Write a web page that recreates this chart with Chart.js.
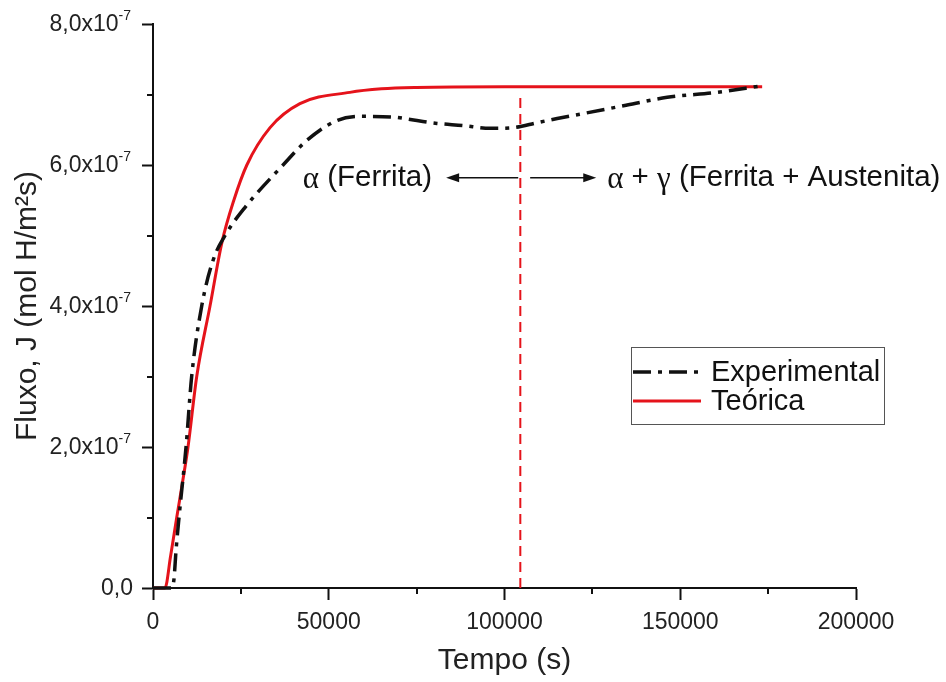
<!DOCTYPE html>
<html>
<head>
<meta charset="utf-8">
<script src="https://cdn.jsdelivr.net/npm/chart.js@4.4.1/dist/chart.umd.min.js"></script>
<style>
  html, body { margin: 0; padding: 0; background: #ffffff; }
  canvas { display: block; }
</style>
</head>
<body>
<canvas id="chart" width="946" height="682"></canvas>
<script>
// Hydrogen permeation flux vs. time; flux values are in units of 1e-7 mol H/m²s
const expTime = [0, 5400, 6000, 6500, 7400, 9400, 11000, 13860, 17100, 20500, 26200, 37000, 43800, 52300, 59800, 68300, 75100, 80800, 88200, 95900, 102500, 109300, 115000, 122400, 134900, 146300, 160500, 172700];
const expFlux = [0, 0, 0.14, 0.5, 1.0, 2.0, 3.0, 4.0, 4.65, 5.0, 5.4, 6.0, 6.35, 6.63, 6.69, 6.68, 6.63, 6.59, 6.56, 6.52, 6.53, 6.6, 6.66, 6.73, 6.85, 6.96, 7.03, 7.12];

const theoTime = [0, 3400, 5000, 6750, 8400, 9960, 12440, 16220, 19600, 23000, 26700, 33300, 41800, 56000, 65000, 75000, 100000, 173300];
const theoFlux = [0, 0, 0.45, 1.0, 1.5, 2.0, 3.0, 4.0, 4.9, 5.5, 6.0, 6.53, 6.87, 7.03, 7.08, 7.1, 7.11, 7.11];

// Phase boundary (α → α + γ) marker
const phaseBoundaryTime = 104500;
const phaseLineFlux = [0, 7.0];

const seriesLabels = ['Experimental', 'Teórica'];
const phaseLabels = ['α (Ferrita)', 'α + γ (Ferrita + Austenita)'];

const yTickValues = [0, 2, 4, 6, 8];
const yExponent = '-7';
const xTickStep = 50000;

const SANS = '"Liberation Sans", Arial, Helvetica, sans-serif';
const SERIF = '"Liberation Serif", "Times New Roman", serif';
const INK = '#111111';
const RED = '#e5131b';
const EXP_DASH = [18, 7, 4, 7];

function toPoints(xs, ys) {
  return xs.map((x, i) => ({ x: x, y: ys[i] }));
}

// Draws a string whose Greek letters use a serif face
function drawMixed(ctx, text, x, y, align) {
  const runs = [];
  for (const ch of text) {
    const greek = /[\u0370-\u03FF]/.test(ch);
    const last = runs[runs.length - 1];
    if (last && last.greek === greek) last.s += ch; else runs.push({ s: ch, greek: greek });
  }
  const fontOf = r => r.greek ? '31px ' + SERIF : '29.5px ' + SANS;
  let total = 0;
  runs.forEach(r => {
    ctx.font = fontOf(r);
    r.w = ctx.measureText(r.s).width;
    total += r.w;
  });
  let cx = align === 'right' ? x - total : x;
  ctx.textAlign = 'left';
  ctx.textBaseline = 'middle';
  runs.forEach(r => {
    ctx.font = fontOf(r);
    ctx.fillText(r.s, cx, r.greek ? y + 2 : y);
    cx += r.w;
  });
}

function drawArrow(ctx, x0, x1, y) {
  const dir = Math.sign(x1 - x0);
  ctx.beginPath();
  ctx.moveTo(x0, y);
  ctx.lineTo(x1 - dir * 10, y);
  ctx.lineWidth = 1.6;
  ctx.strokeStyle = INK;
  ctx.stroke();
  ctx.beginPath();
  ctx.moveTo(x1, y);
  ctx.lineTo(x1 - dir * 13, y - 4.5);
  ctx.lineTo(x1 - dir * 13, y + 4.5);
  ctx.closePath();
  ctx.fillStyle = INK;
  ctx.fill();
}

const axisDecor = {
  id: 'axisDecor',
  afterDraw(chart) {
    const { ctx, scales: { x, y }, chartArea: area } = chart;
    ctx.save();

    // minor ticks halfway between major ticks
    ctx.strokeStyle = INK;
    ctx.lineWidth = 2;
    for (let v = 1; v < 8; v += 2) {
      const py = Math.round(y.getPixelForValue(v));
      ctx.beginPath();
      ctx.moveTo(area.left - 6, py);
      ctx.lineTo(area.left, py);
      ctx.stroke();
    }
    for (let v = xTickStep / 2; v < x.max; v += xTickStep) {
      const px = Math.round(x.getPixelForValue(v));
      ctx.beginPath();
      ctx.moveTo(px, area.bottom);
      ctx.lineTo(px, area.bottom + 6);
      ctx.stroke();
    }

    // y tick labels with superscript exponent
    ctx.fillStyle = '#222222';
    const right = area.left - 22;
    yTickValues.forEach(v => {
      const py = y.getPixelForValue(v);
      const mant = v.toFixed(1).replace('.', ',');
      ctx.textBaseline = 'middle';
      if (v === 0) {
        ctx.font = '23px ' + SANS;
        ctx.textAlign = 'right';
        ctx.fillText(mant, right + 2, py + 1);
        return;
      }
      ctx.font = '14px ' + SANS;
      const supW = ctx.measureText(yExponent).width;
      ctx.textAlign = 'right';
      ctx.fillText(yExponent, right, py - 8);
      ctx.font = '23px ' + SANS;
      ctx.fillText(mant + 'x10', right - supW, py + 1);
    });

    // phase annotations
    const ay = y.getPixelForValue(5.82);
    ctx.fillStyle = INK;
    drawArrow(ctx, x.getPixelForValue(103900), x.getPixelForValue(83400), ay);
    drawArrow(ctx, x.getPixelForValue(107300), x.getPixelForValue(126100), ay);
    drawMixed(ctx, phaseLabels[0], x.getPixelForValue(79400), ay, 'right');
    drawMixed(ctx, phaseLabels[1], x.getPixelForValue(129200), ay, 'left');

    // legend box
    const box = { left: 631, top: 347, width: 253, height: 77 };
    ctx.lineWidth = 1;
    ctx.strokeStyle = '#555555';
    ctx.strokeRect(box.left + 0.5, box.top + 0.5, box.width, box.height);
    const rows = [box.top + 25, box.top + 54];
    chart.data.datasets.slice(0, 2).forEach((ds, i) => {
      ctx.beginPath();
      ctx.setLineDash(ds.borderDash || []);
      ctx.lineWidth = ds.borderWidth;
      ctx.strokeStyle = ds.borderColor;
      ctx.moveTo(box.left + 2, rows[i]);
      ctx.lineTo(box.left + 70, rows[i]);
      ctx.stroke();
      ctx.setLineDash([]);
      ctx.font = '29px ' + SANS;
      ctx.fillStyle = INK;
      ctx.textAlign = 'left';
      ctx.textBaseline = 'middle';
      ctx.fillText(ds.label, box.left + 80, rows[i] + 1);
    });

    ctx.restore();
  }
};

new Chart(document.getElementById('chart'), {
  type: 'line',
  data: {
    datasets: [
      {
        label: seriesLabels[0],
        data: toPoints(expTime, expFlux),
        borderColor: INK,
        borderWidth: 3.5,
        borderDash: EXP_DASH,
        pointRadius: 0,
        cubicInterpolationMode: 'monotone',
        clip: 5,
        order: 0
      },
      {
        label: seriesLabels[1],
        data: toPoints(theoTime, theoFlux),
        borderColor: RED,
        borderWidth: 3,
        pointRadius: 0,
        cubicInterpolationMode: 'monotone',
        clip: 5,
        order: 1
      },
      {
        label: 'fronteira',
        data: phaseLineFlux.map(v => ({ x: phaseBoundaryTime, y: v })),
        borderColor: RED,
        borderWidth: 2,
        borderDash: [10, 6],
        pointRadius: 0,
        order: 2
      }
    ]
  },
  options: {
    responsive: false,
    animation: false,
    devicePixelRatio: 1,
    layout: { padding: { top: 24, right: 90, bottom: 0, left: 0 } },
    plugins: { legend: { display: false }, tooltip: { enabled: false } },
    scales: {
      x: {
        type: 'linear',
        min: 0,
        max: 200000,
        afterFit(scale) { scale.height = 94; },
        border: { display: true, color: INK, width: 2 },
        grid: { display: true, drawOnChartArea: false, drawTicks: true, tickLength: 12, tickWidth: 2, tickColor: INK },
        ticks: {
          stepSize: xTickStep,
          padding: 9,
          color: '#222222',
          font: { family: SANS, size: 23 },
          callback: v => String(v),
          maxRotation: 0
        },
        title: {
          display: true,
          text: 'Tempo (s)',
          color: '#222222',
          font: { family: SANS, size: 30 },
          padding: { top: 0, bottom: 3 }
        }
      },
      y: {
        type: 'linear',
        min: 0,
        max: 8,
        afterFit(scale) { scale.width = 153; },
        border: { display: true, color: INK, width: 2 },
        grid: { display: true, drawOnChartArea: false, drawTicks: true, tickLength: 11, tickWidth: 2, tickColor: INK },
        ticks: { stepSize: 2, display: false },
        title: {
          display: true,
          text: 'Fluxo, J (mol H/m²s)',
          color: '#222222',
          font: { family: SANS, size: 30 },
          padding: { top: 10, bottom: 0 }
        }
      }
    }
  },
  plugins: [axisDecor]
});
</script>
</body>
</html>
